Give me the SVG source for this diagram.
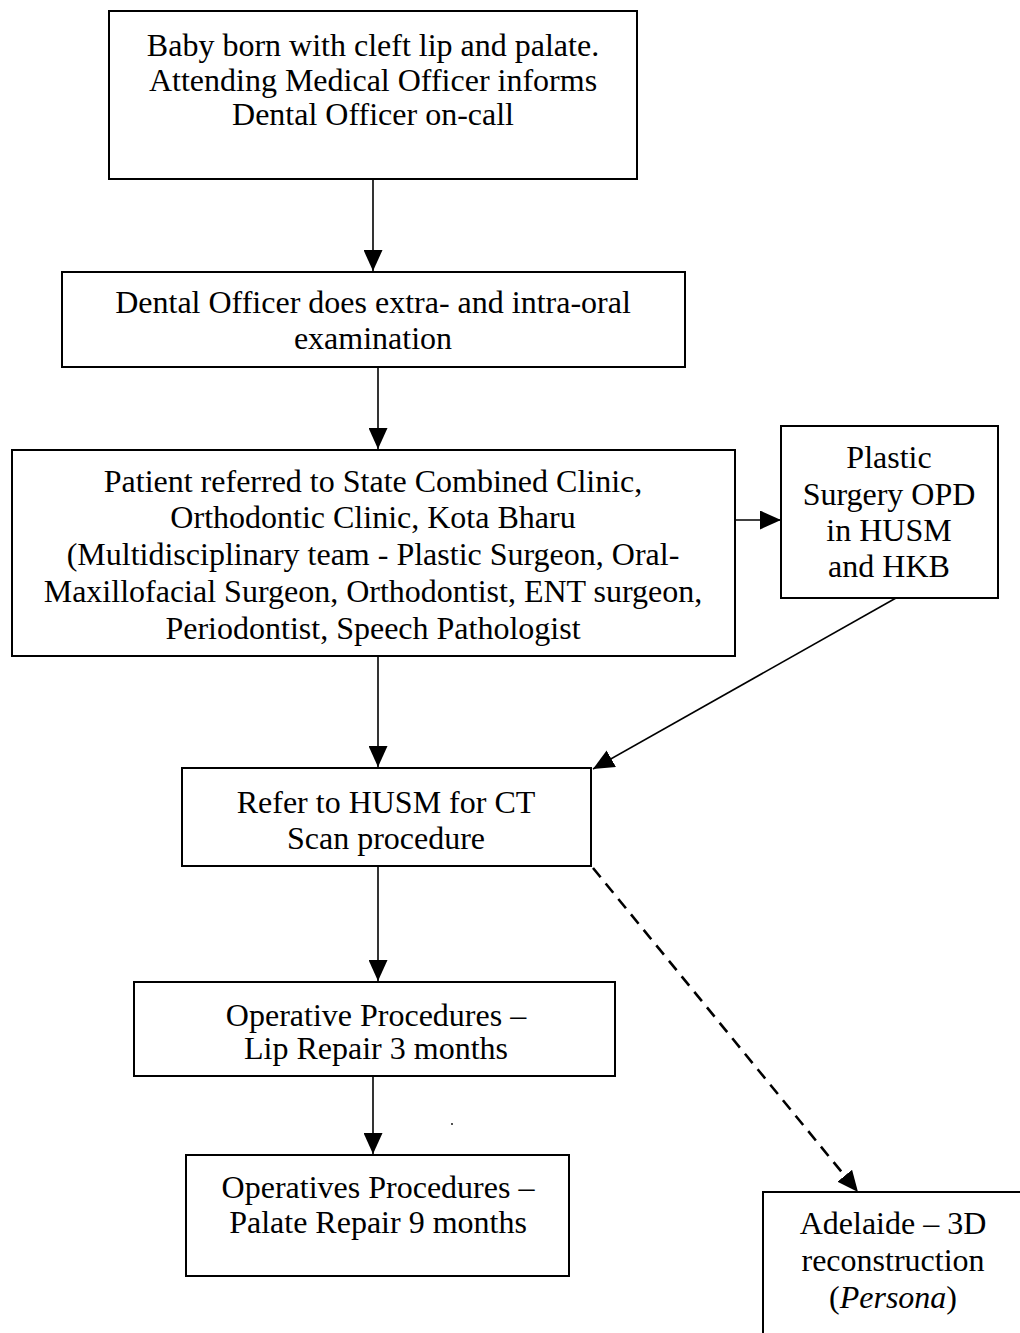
<svg xmlns="http://www.w3.org/2000/svg" width="1020" height="1333" viewBox="0 0 1020 1333">
<style>
.box{fill:#fff;stroke:#000;stroke-width:2}
.t{font-family:"Liberation Serif","Times New Roman",serif;font-size:32px;fill:#000;text-anchor:middle}
.c{stroke:#000;stroke-width:1.6;fill:none}
.d{stroke:#000;stroke-width:2.6;fill:none;stroke-dasharray:12 8}
</style>
<defs>
<marker id="ahb" viewBox="0 0 10 10" refX="10" refY="5" markerWidth="21" markerHeight="19" markerUnits="userSpaceOnUse" orient="auto" preserveAspectRatio="none">
<path d="M0,0 L10,5 L0,10 z" fill="#000"/>
</marker>
</defs>
<rect width="1020" height="1333" fill="#fff"/>
<g id="connectors">
<line class="c" x1="373" y1="179" x2="373" y2="271" marker-end="url(#ahb)"/>
<line class="c" x1="378" y1="367" x2="378" y2="449" marker-end="url(#ahb)"/>
<line class="c" x1="733" y1="520" x2="781" y2="520" marker-end="url(#ahb)"/>
<line class="c" x1="896" y1="598" x2="593" y2="769" marker-end="url(#ahb)"/>
<line class="c" x1="378" y1="656" x2="378" y2="767" marker-end="url(#ahb)"/>
<line class="c" x1="378" y1="866" x2="378" y2="981" marker-end="url(#ahb)"/>
<line class="d" x1="593" y1="868" x2="858" y2="1192" marker-end="url(#ahb)"/>
<line class="c" x1="373" y1="1076" x2="373" y2="1154" marker-end="url(#ahb)"/>
</g>
<circle cx="452" cy="1124" r="0.9" fill="#000"/>
<g id="n1">
<rect class="box" x="109" y="11" width="528" height="168"/>
<text class="t" x="373" y="56">Baby born with cleft lip and palate.</text>
<text class="t" x="373" y="91">Attending Medical Officer informs</text>
<text class="t" x="373" y="125">Dental Officer on-call</text>
</g>
<g id="n2">
<rect class="box" x="62" y="272" width="623" height="95"/>
<text class="t" x="373" y="313">Dental Officer does extra- and intra-oral</text>
<text class="t" x="373" y="349">examination</text>
</g>
<g id="n3">
<rect class="box" x="12" y="450" width="723" height="206"/>
<text class="t" x="373" y="492">Patient referred to State Combined Clinic,</text>
<text class="t" x="373" y="528">Orthodontic Clinic, Kota Bharu</text>
<text class="t" x="373" y="565">(Multidisciplinary team - Plastic Surgeon, Oral-</text>
<text class="t" x="373" y="602">Maxillofacial Surgeon, Orthodontist, ENT surgeon,</text>
<text class="t" x="373" y="639">Periodontist, Speech Pathologist</text>
</g>
<g id="n4">
<rect class="box" x="781" y="426" width="217" height="172"/>
<text class="t" x="889" y="468">Plastic</text>
<text class="t" x="889" y="505">Surgery OPD</text>
<text class="t" x="889" y="541">in HUSM</text>
<text class="t" x="889" y="577">and HKB</text>
</g>
<g id="n5">
<rect class="box" x="182" y="768" width="409" height="98"/>
<text class="t" x="386" y="813">Refer to HUSM for CT</text>
<text class="t" x="386" y="849">Scan procedure</text>
</g>
<g id="n6">
<rect class="box" x="134" y="982" width="481" height="94"/>
<text class="t" x="376" y="1026">Operative Procedures –</text>
<text class="t" x="376" y="1059">Lip Repair 3 months</text>
</g>
<g id="n7">
<rect class="box" x="186" y="1155" width="383" height="121"/>
<text class="t" x="378" y="1198">Operatives Procedures –</text>
<text class="t" x="378" y="1233">Palate Repair 9 months</text>
</g>
<g id="n8">
<path class="box" d="M1022,1192 L763,1192 L763,1335"/>
<text class="t" x="893" y="1234">Adelaide – 3D</text>
<text class="t" x="893" y="1271">reconstruction</text>
<text class="t" x="893" y="1308">(<tspan font-style="italic">Persona</tspan>)</text>
</g>
</svg>
